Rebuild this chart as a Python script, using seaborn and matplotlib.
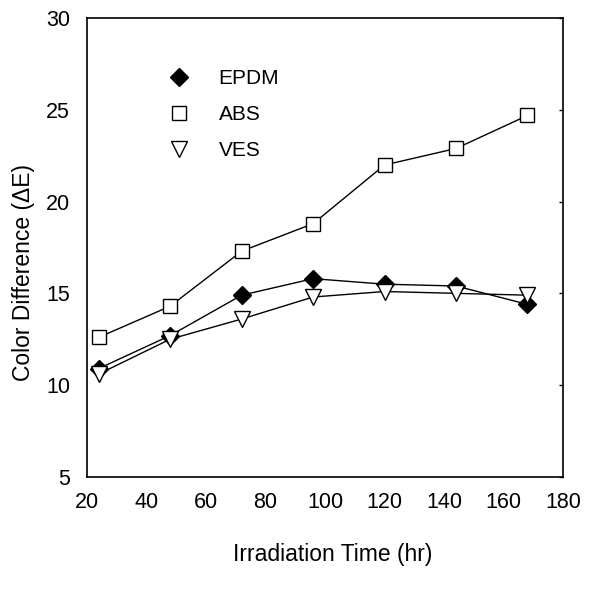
import numpy as np
import pandas as pd
import matplotlib
matplotlib.use('Agg')
import matplotlib.pyplot as plt
from matplotlib.lines import Line2D
import seaborn as sns

sns.set_theme(style='white')
plt.rcParams['font.family'] = ['Liberation Sans', 'DejaVu Sans']
plt.rcParams['text.color'] = 'black'
plt.rcParams['axes.labelcolor'] = 'black'
plt.rcParams['xtick.color'] = 'black'
plt.rcParams['ytick.color'] = 'black'

# irradiation times (hr)
hours = [24, 48, 72, 96, 120, 144, 168]
# color difference values
epdm = [10.9, 12.7, 14.9, 15.8, 15.5, 15.4, 14.4]
abs_ = [12.6, 14.3, 17.3, 18.8, 22.0, 22.9, 24.7]
ves = [10.6, 12.5, 13.6, 14.8, 15.1, 15.0, 14.9]

series = [('EPDM', epdm, 'D', 'black', 9),
          ('ABS', abs_, 's', 'white', 10),
          ('VES', ves, 'v', 'white', 11)]

fig = plt.figure(figsize=(6.03, 5.90), dpi=100)
ax = fig.add_axes([0.144, 0.192, 0.790, 0.777])

handles = []
for name, vals, mk, face, ms in series:
    df = pd.DataFrame({'hours': hours, 'dE': vals})
    sns.lineplot(data=df, x='hours', y='dE', ax=ax, color='black', lw=1,
                 marker=mk, markersize=ms, markerfacecolor=face,
                 markeredgecolor='black', markeredgewidth=1)
    handles.append(Line2D([], [], linestyle='none', marker=mk, markersize=ms,
                          markerfacecolor=face, markeredgecolor='black', label=name))

ax.set_xlim(20, 180)
ax.set_ylim(5, 30)
ax.set_xticks(range(20, 181, 20))
ax.set_yticks(range(5, 31, 5))
ax.tick_params(axis='both', direction='in', length=8, width=1, labelsize=15.5)
ax.tick_params(axis='x', pad=11)
ax.tick_params(axis='y', pad=12)
# tiny ticks on the right edge like the original
ax.tick_params(axis='y', which='major', right=True, labelright=False)
for t in ax.yaxis.get_major_ticks():
    t.tick2line.set_markersize(3)
for s in ax.spines.values():
    s.set_color('black')
    s.set_linewidth(1.2)

ax.set_xlabel('Irradiation Time (hr)', fontsize=16.5)
ax.set_ylabel('Color Difference (ΔE)', fontsize=16.5)
ax.xaxis.set_label_coords(0.517, -0.145)
ax.yaxis.set_label_coords(-0.108, 0.445)

ax.legend(handles=handles, loc='upper left', bbox_to_anchor=(0.132, 0.908),
          frameon=False, fontsize=15, handletextpad=0.9, labelspacing=0.82,
          borderaxespad=0)

fig.savefig('out.png', dpi=100)
